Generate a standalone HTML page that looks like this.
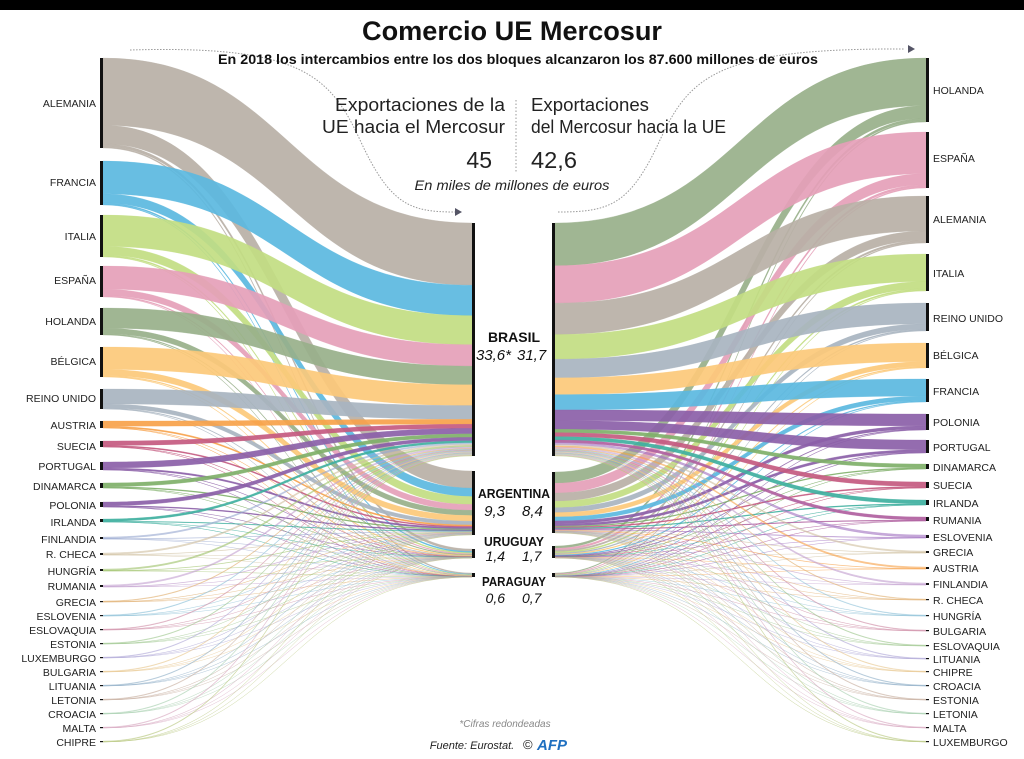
<!DOCTYPE html>
<html><head><meta charset="utf-8"><style>
html,body{margin:0;padding:0;background:#fff}
svg{display:block}
text{font-family:"Liberation Sans",sans-serif}
</style></head><body>
<svg id="s" width="1024" height="759" viewBox="0 0 1024 759" xmlns="http://www.w3.org/2000/svg">
<rect x="0" y="0" width="1024" height="759" fill="#fff"/>
<rect x="0" y="0" width="1024" height="10" fill="#000"/>
<g id="flows"></g>
<g id="bars"></g>
<g id="labels" font-size="10.5" fill="#222"></g>
<path d="M130,50 C300,45 330,75 360,140 C390,205 410,212 455,212" fill="none" stroke="#999" stroke-width="1" stroke-dasharray="1.5,1.5"/>
<polygon points="455,208 462,212 455,216" fill="#556"/>
<path d="M558,212 C610,212 630,205 660,140 C690,75 720,48 905,49" fill="none" stroke="#999" stroke-width="1" stroke-dasharray="1.5,1.5"/>
<polygon points="908,45 915,49 908,53" fill="#556"/>
<text x="512" y="40" text-anchor="middle" font-size="27" font-weight="bold" fill="#111" textLength="300" lengthAdjust="spacingAndGlyphs">Comercio UE Mercosur</text>
<text x="518" y="64" text-anchor="middle" font-size="14" font-weight="bold" fill="#111" textLength="600" lengthAdjust="spacingAndGlyphs">En 2018 los intercambios entre los dos bloques alcanzaron los 87.600 millones de euros</text>
<text x="505" y="111" text-anchor="end" font-size="18" fill="#222" textLength="170" lengthAdjust="spacingAndGlyphs">Exportaciones de la</text>
<text x="505" y="133" text-anchor="end" font-size="18" fill="#222" textLength="183" lengthAdjust="spacingAndGlyphs">UE hacia el Mercosur</text>
<text x="531" y="111" font-size="18" fill="#222" textLength="118" lengthAdjust="spacingAndGlyphs">Exportaciones</text>
<text x="531" y="133" font-size="18" fill="#222" textLength="195" lengthAdjust="spacingAndGlyphs">del Mercosur hacia la UE</text>
<line x1="516" y1="100" x2="516" y2="172" stroke="#999" stroke-dasharray="1.5,2"/>
<text x="492" y="168" text-anchor="end" font-size="23" fill="#222">45</text>
<text x="531" y="168" font-size="23" fill="#222" textLength="46" lengthAdjust="spacingAndGlyphs">42,6</text>
<text x="512" y="190" text-anchor="middle" font-size="14" font-style="italic" fill="#222" textLength="195" lengthAdjust="spacingAndGlyphs">En miles de millones de euros</text>
<g fill="#111">
<text x="514" y="342" text-anchor="middle" font-size="14" font-weight="bold">BRASIL</text>
<text x="511" y="360" text-anchor="end" font-size="15" font-style="italic">33,6*</text>
<text x="517" y="360" font-size="15" font-style="italic">31,7</text>
<text x="514" y="498" text-anchor="middle" font-size="13" font-weight="bold" textLength="72" lengthAdjust="spacingAndGlyphs">ARGENTINA</text>
<text x="505" y="516" text-anchor="end" font-size="15" font-style="italic">9,3</text>
<text x="522" y="516" font-size="15" font-style="italic">8,4</text>
<text x="514" y="546" text-anchor="middle" font-size="12.5" font-weight="bold" textLength="60" lengthAdjust="spacingAndGlyphs">URUGUAY</text>
<text x="505" y="561" text-anchor="end" font-size="14" font-style="italic">1,4</text>
<text x="522" y="561" font-size="14" font-style="italic">1,7</text>
<text x="514" y="586" text-anchor="middle" font-size="12.5" font-weight="bold" textLength="64" lengthAdjust="spacingAndGlyphs">PARAGUAY</text>
<text x="505" y="603" text-anchor="end" font-size="14" font-style="italic">0,6</text>
<text x="522" y="603" font-size="14" font-style="italic">0,7</text>
</g>
<text x="505" y="727" text-anchor="middle" font-size="10" font-style="italic" fill="#888">*Cifras redondeadas</text>
<text x="472" y="749" text-anchor="middle" font-size="11" font-style="italic" fill="#222">Fuente: Eurostat.</text>
<text x="523" y="749" font-size="13" fill="#222">©</text>
<text x="537" y="750" font-size="15" font-weight="bold" font-style="italic" fill="#1e6fc0">AFP</text>
</svg>
<script>
const pal={gray:"#b8b0a6",blue:"#5bb8e0",lg:"#c2dd82",pink:"#e59fb8",ol:"#98b08a",yel:"#fcc97a",gb:"#a8b4c0",or:"#f7a24a",mag:"#c45a80",pur:"#8b5fa8",grn:"#7fb069",teal:"#3fb0a0"};
const smallCols=["#9fc26b","#c3a0d0","#e0b070","#8cc0d8","#d08fa8","#a0c890","#b0a8d8","#e8c890","#90b0c8","#c8b0a0","#a8d0b0","#d8a8c0","#b8c880","#98a8d0","#d0c0a0"];
function mk(list){return list.map((a,i)=>({n:a[0],y0:a[1],y1:a[2],c:a[3]||smallCols[i%smallCols.length],lab:a[4]}));}
const L=mk([["ALEMANIA",58,148,pal.gray,103],["FRANCIA",161,205,pal.blue,182],["ITALIA",215,257,pal.lg,236],["ESPAÑA",266,297,pal.pink,280],["HOLANDA",308,335,pal.ol,321],["BÉLGICA",347,377,pal.yel,361],["REINO UNIDO",389,409,pal.gb,398],["AUSTRIA",421,428,pal.or,425],["SUECIA",441,447,pal.mag,446],["PORTUGAL",462,470,pal.pur,466],["DINAMARCA",483,488,pal.grn,486],["POLONIA",502,507,pal.pur,505],["IRLANDA",519,522,pal.teal,522],
["FINLANDIA",537,539,null,539],["R. CHECA",553,555,null,554],["HUNGRÍA",569,571,null,571],["RUMANIA",585,587,null,586],["GRECIA",601,602,null,602],["ESLOVENIA",615,616,null,616],["ESLOVAQUIA",629,630,null,630],["ESTONIA",643,644,null,644],["LUXEMBURGO",657,658,null,658],["BULGARIA",671,672,null,672],["LITUANIA",685,686,null,686],["LETONIA",699,700,null,700],["CROACIA",713,714,null,714],["MALTA",727,728,null,728],["CHIPRE",741,742,null,742]]);
const R=mk([["HOLANDA",58,122,pal.ol,90],["ESPAÑA",132,188,pal.pink,158],["ALEMANIA",196,243,pal.gray,219],["ITALIA",254,291,pal.lg,273],["REINO UNIDO",303,331,pal.gb,318],["BÉLGICA",343,368,pal.yel,355],["FRANCIA",379,402,pal.blue,391],["POLONIA",414,430,pal.pur,422],["PORTUGAL",440,453,pal.pur,447],["DINAMARCA",464,469,pal.grn,467],["SUECIA",482,488,pal.mag,485],["IRLANDA",500,505,pal.teal,503],["RUMANIA",517,521,"#b060a0",520],["ESLOVENIA",535,538,"#a070c0",537],
["GRECIA",551,553,null,552],["AUSTRIA",567,569,pal.or,568],["FINLANDIA",583,585,null,584],["R. CHECA",599,600,null,600],["HUNGRÍA",615,616,null,616],["BULGARIA",630,631,null,631],["ESLOVAQUIA",645,646,null,646],["LITUANIA",658,659,null,659],["CHIPRE",671,672,null,672],["CROACIA",685,686,null,686],["ESTONIA",699,700,null,700],["LETONIA",713,714,null,714],["MALTA",727,728,null,728],["LUXEMBURGO",741,742,null,742]]);
const CL=[[223,456],[471,535],[549,558],[573,577]];
const CR=[[223,456],[472,533],[546,558],[573,577]];
const shL=[0.747,0.207,0.031,0.015], shR=[0.744,0.197,0.04,0.019];
const NS="http://www.w3.org/2000/svg";
const fl=document.getElementById("flows"),bars=document.getElementById("bars"),lab=document.getElementById("labels");
function el(t,a,p){const e=document.createElementNS(NS,t);for(const k in a)e.setAttribute(k,a[k]);p.appendChild(e);return e;}
function side(nodes,C,sh,xo,xc,dir){
  const v=nodes.map(n=>Math.max(n.y1-n.y0,0.8));
  const tot=v.reduce((a,b)=>a+b,0);
  const cur=C.map(c=>c[0]);
  const shapes=[];
  nodes.forEach((n,i)=>{
    let oc=n.y0;
    const H=Math.max(n.y1-n.y0,0.8);
    for(let k=0;k<4;k++){
      const ho=H*sh[k];
      const hc=(C[k][1]-C[k][0])*v[i]/tot;
      const a0=oc,a1=oc+ho,b0=cur[k],b1=cur[k]+hc;
      oc=a1;cur[k]=b1;
      const m=(xo+xc)/2;
      const d=`M${xo},${a0} C${m},${a0} ${m},${b0} ${xc},${b0} L${xc},${b1} C${m},${b1} ${m},${a1} ${xo},${a1} Z`;
      const big=i<13;
      shapes.push({d,c:n.c,op:big?0.92:0.6,sw:big?0.5:0.4});
    }
  });
  shapes.forEach(s=>el("path",{d:s.d,fill:s.c,"fill-opacity":s.op,stroke:s.c,"stroke-opacity":0.5,"stroke-width":s.sw},fl));
  nodes.forEach(n=>{
    const bx=dir<0?xo-3:xo;
    el("rect",{x:bx,y:n.y0,width:3,height:Math.max(n.y1-n.y0,1.2),fill:"#111"},bars);
    const t=el("text",{x:dir<0?96:933,y:n.lab+4,"text-anchor":dir<0?"end":"start"},lab);
    t.textContent=n.n;
  });
  C.forEach(c=>el("rect",{x:dir<0?xc:xc-3,y:c[0],width:3,height:c[1]-c[0],fill:"#111"},bars));
}
side(L,CL,shL,103,472,-1);
side(R,CR,shR,926,555,1);
</script>
</body></html>
